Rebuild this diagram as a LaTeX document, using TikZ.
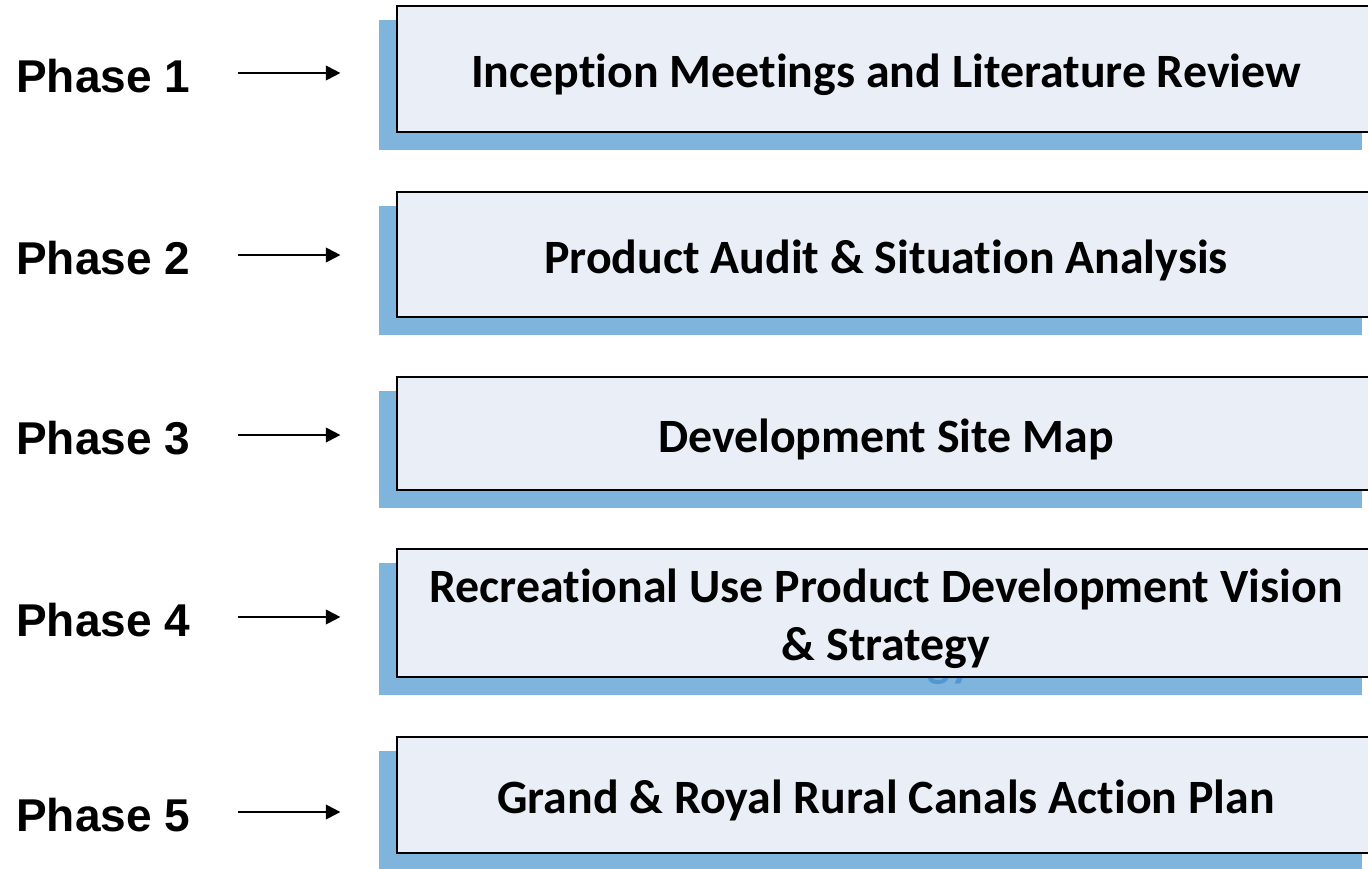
\documentclass[tikz,border=0pt]{standalone}
\usepackage{fontspec}
\setmainfont{Carlito}[Ligatures=CommonOff]
\newfontfamily\phasefont{Liberation Sans}
\usepackage{tikz}
\usetikzlibrary{arrows.meta,backgrounds}

\definecolor{boxfill}{RGB}{234,239,247}
\definecolor{shadowblue}{RGB}{127,181,220}
\definecolor{ghostblue}{RGB}{84,150,212}

\begin{document}
\begin{tikzpicture}[x=0.75pt,y=-0.75pt,
        phase/.style={anchor=base west,inner sep=0pt,
            font=\phasefont\bfseries\fontsize{34.5}{40}\selectfont},
        stage/.style={draw=black,line width=1.2pt,fill=boxfill,
            minimum width=733.5pt,inner sep=0pt,align=center,
            text height=36pt,text depth=8pt,
            font=\bfseries\fontsize{35.9}{43.5}\selectfont},
        twolines/.style={text height=79.5pt},
        flow/.style={-{Triangle[length=11pt,width=11pt]},line width=1.5pt},
        shade/.style={fill=shadowblue}]

            \useasboundingbox (0,0) rectangle (1368,868);

            % phase labels
            \node[phase] (ph1) at (16,92) {Phase 1};
            \node[phase] (ph2) at (16,274) {Phase 2};
            \node[phase] (ph3) at (16,454) {Phase 3};
            \node[phase] (ph4) at (16,636) {Phase 4};
            \node[phase] (ph5) at (16,831) {Phase 5};

            % stage boxes
            \node[stage,minimum height=94.5pt] (box1) at (886,69)
                {Inception Meetings and Literature Review};
            \node[stage,minimum height=93.75pt] (box2) at (886,254.5)
                {Product Audit \& Situation Analysis};
            \node[stage,minimum height=84.75pt] (box3) at (886,433.5)
                {Development Site Map};
            \node[stage,twolines,minimum height=96pt] (box4) at (886,613)
                {Recreational Use Product Development Vision\\\& Strategy};
            \node[stage,minimum height=87pt] (box5) at (886,795)
                {Grand \& Royal Rural Canals Action Plan};

            % blue shadows behind the boxes
            \begin{scope}[on background layer]
                \fill[shade] ([shift={(-17,15)}]box1.north west) rectangle ([shift={(-14,17)}]box1.south east);
                \fill[shade] ([shift={(-17,15)}]box2.north west) rectangle ([shift={(-14,17)}]box2.south east);
                \fill[shade] ([shift={(-17,15)}]box3.north west) rectangle ([shift={(-14,17)}]box3.south east);
                \fill[shade] ([shift={(-17,15)}]box4.north west) rectangle ([shift={(-14,17)}]box4.south east);
                \fill[shade] ([shift={(-17,15)}]box5.north west) rectangle ([shift={(-14,17)}]box5.south east);
                \node[stage,twolines,draw=none,fill=none,text=ghostblue]
                    (ghost4) at ([shift={(-17,16)}]box4.center)
                    {Recreational Use Product Development Vision\\\& Strategy};
            \end{scope}

            % arrows
            \draw[flow] ([shift={(48,-19)}]ph1.base east) -- ++(102,0);
            \draw[flow] ([shift={(48,-19)}]ph2.base east) -- ++(102,0);
            \draw[flow] ([shift={(48,-19)}]ph3.base east) -- ++(102,0);
            \draw[flow] ([shift={(48,-19)}]ph4.base east) -- ++(102,0);
            \draw[flow] ([shift={(48,-19)}]ph5.base east) -- ++(102,0);
        \end{tikzpicture}
\end{document}
